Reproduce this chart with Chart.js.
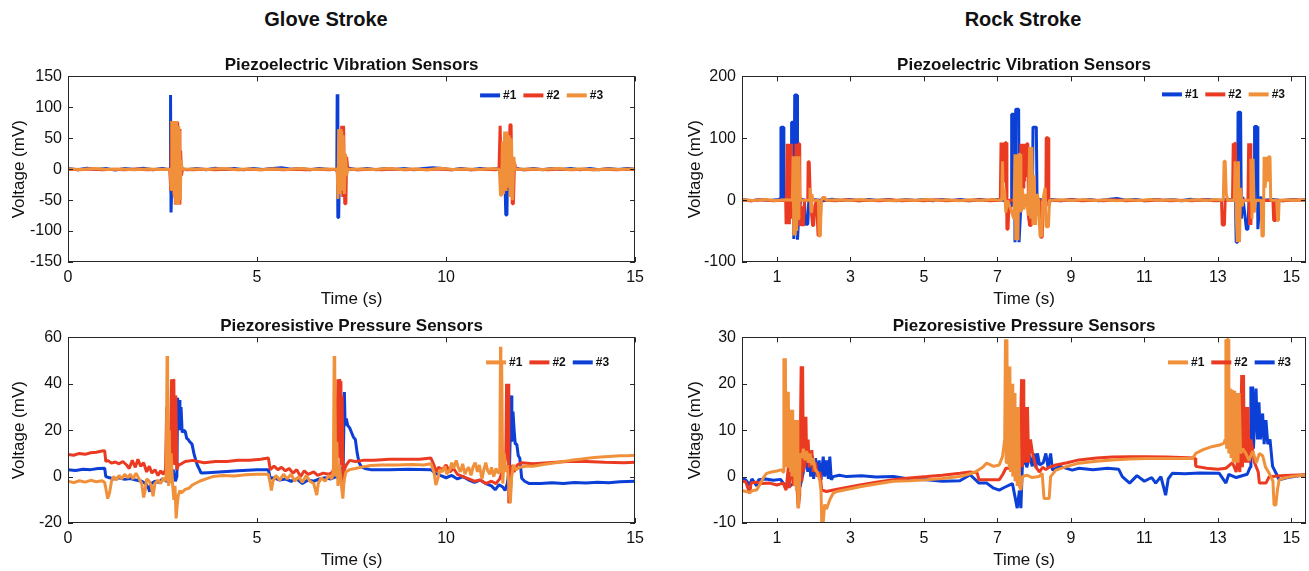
<!DOCTYPE html>
<html>
<head>
<meta charset="utf-8">
<script src="https://cdn.jsdelivr.net/npm/chart.js@4.4.0/dist/chart.umd.min.js"></script>
<style>
  body { margin: 0; background: #fff; width: 1309px; height: 571px; position: relative; overflow: hidden;
         font-family: "Liberation Sans", Arial, Helvetica, sans-serif; }
  .head { position: absolute; top: 8px; font-weight: bold; font-size: 20px; color: #111;
          transform: translateX(-50%); white-space: nowrap; }
  canvas { position: absolute; }
</style>
</head>
<body>
<div class="head" style="left:326px">Glove Stroke</div>
<div class="head" style="left:1023px">Rock Stroke</div>
<canvas id="gloveVib" width="650" height="270" style="left:0;top:40px"></canvas>
<canvas id="glovePres" width="650" height="270" style="left:0;top:301px"></canvas>
<canvas id="rockVib" width="649" height="270" style="left:660px;top:40px"></canvas>
<canvas id="rockPres" width="649" height="270" style="left:660px;top:301px"></canvas>
<script>
// ticks
const gloveTicksX = [0, 5, 10, 15]
const rockTicksX = [1, 3, 5, 7, 9, 11, 13, 15]
const gloveVibTicksY = [-150, -100, -50, 0, 50, 100, 150]
const glovePresTicksY = [-20, 0, 20, 40, 60]
const rockVibTicksY = [-100, 0, 100, 200]
const rockPresTicksY = [-10, 0, 10, 20, 30]

const vibLabels = ["#1", "#2", "#3"]
const presLabels = ["#1", "#2", "#3"]

// series: [time (s), voltage (mV)]
const gloveVib1 = [
  [0,1],[0.25,-1],[0.5,1.5],[0.75,-0.5],[1,1],[1.25,-1.5],[1.5,1],[1.75,-0.5],[2,1.5],[2.25,-1],[2.5,1],[2.68,-1],
  [2.70,2],[2.705,120],[2.72,120],[2.725,-70],[2.745,-70],[2.76,3],
  [2.9,2],[3.15,-1],[3.4,1],[3.65,-1],[3.9,1.5],[4.15,-0.5],[4.4,1],[4.65,-1],[4.9,1],[5.15,-0.5],[5.4,1],[5.65,2.5],[5.9,0],[6.15,1],[6.4,-1],[6.65,1],[6.9,-0.5],[7.08,0],
  [7.11,-3],[7.12,121],[7.135,121],[7.14,-78],[7.16,-78],[7.18,3],
  [7.4,2],[7.65,-1],[7.9,1],[8.15,-1],[8.4,1],[8.65,-0.5],[8.9,1],[9.15,-1],[9.4,1],[9.65,2.5],[9.9,1],[10.15,-1],[10.4,1],[10.65,-1],[10.9,1],[11.15,-0.5],[11.4,1],[11.55,-2],
  [11.58,-74],[11.61,-74],[11.63,15],[11.66,4],
  [11.8,2],[12.05,-1],[12.3,1],[12.55,-1],[12.8,1],[13.05,-0.5],[13.3,1],[13.55,-1],[13.8,1],[14.05,-1],[14.3,1],[14.55,-0.5],[14.8,1],[15,0]
]
const gloveVib2 = [
  [0,0],[0.3,-1],[0.6,0.5],[0.9,-1],[1.2,0],[1.5,-1],[1.8,0.5],[2.1,-1],[2.4,0],[2.69,-0.5],
  [2.72,-35],[2.74,78],[2.76,-20],[2.78,78],[2.80,-40],[2.82,78],[2.84,-57],[2.86,78],[2.88,-57],[2.90,76],[2.92,-57],[2.94,65],[2.96,-57],[2.98,30],[3.0,-10],[3.03,0],
  [3.3,-1],[3.6,0],[3.9,-1],[4.2,0.5],[4.5,-1],[4.8,0],[5.1,-1],[5.4,0.5],[5.7,-1],[6.0,0],[6.3,-1],[6.6,0],[6.9,-1],[7.12,0],
  [7.15,-40],[7.18,60],[7.21,-30],[7.24,70],[7.27,-45],[7.29,70],[7.32,-56],[7.35,-56],[7.37,20],[7.40,0],
  [7.7,-1],[8.0,0],[8.3,-1],[8.6,0.5],[8.9,-1],[9.2,0],[9.5,-1],[9.8,0.5],[10.1,-1],[10.4,0],[10.7,-1],[11.0,0],[11.3,-1],[11.40,0],
  [11.43,70],[11.45,70],[11.47,-40],[11.50,30],[11.53,-30],[11.56,50],[11.59,-35],[11.62,40],[11.65,-20],[11.69,72],[11.72,72],[11.75,-56],[11.78,-56],[11.81,10],[11.85,0],
  [12.1,-1],[12.4,0],[12.7,-1],[13.0,0.5],[13.3,-1],[13.6,0],[13.9,-1],[14.2,0],[14.5,-1],[14.8,0],[15,-0.5]
]
const gloveVib3 = [
  [0,0.5],[0.35,-0.5],[0.7,1],[1.05,-0.5],[1.4,0.5],[1.75,-1],[2.1,0.5],[2.45,-0.5],[2.70,0],
  [2.73,-33],[2.75,78],[2.77,-10],[2.79,78],[2.81,-45],[2.83,78],[2.85,-57],[2.87,78],[2.89,-56],[2.91,70],[2.93,-57],[2.95,62],[2.97,-50],[2.99,15],[3.02,0],
  [3.35,0.5],[3.7,-0.5],[4.05,1],[4.4,-0.5],[4.75,0.5],[5.1,-1],[5.45,0.5],[5.8,-0.5],[6.15,1],[6.5,-0.5],[6.85,0.5],[7.12,0],
  [7.14,-48],[7.16,65],[7.18,-40],[7.20,65],[7.22,-30],[7.24,62],[7.26,-35],[7.28,55],[7.31,-40],[7.34,25],[7.37,-10],[7.40,0],
  [7.75,0.5],[8.1,-0.5],[8.45,1],[8.8,-0.5],[9.15,0.5],[9.5,-1],[9.85,1.5],[10.2,-0.5],[10.55,0.5],[10.9,-0.5],[11.25,1],[11.41,0],
  [11.44,-42],[11.47,-42],[11.49,45],[11.52,-40],[11.55,61],[11.58,-35],[11.61,61],[11.64,-30],[11.67,55],[11.70,-45],[11.73,50],[11.76,-50],[11.79,20],[11.83,0],
  [12.2,0.5],[12.55,-0.5],[12.9,1],[13.25,-0.5],[13.6,0.5],[13.95,-1],[14.3,0.5],[14.65,-0.5],[15,0.5]
]

const glovePres1 = [
  [0,-2],[0.15,-2.6],[0.3,-1.8],[0.45,-2.4],[0.6,-1.6],[0.75,-2.2],[0.9,-1.8],[0.97,-2.5],[1.0,-5],[1.05,-9.5],[1.1,-7],[1.15,-2],[1.2,0],[1.28,-1.5],[1.35,0.5],[1.42,-1],[1.5,1],[1.58,-0.5],[1.65,1],[1.72,-1],[1.8,1.5],[1.88,-1],[1.95,-3],[2.0,-9],[2.04,-6],[2.08,-1],[2.15,-2],[2.2,-4],[2.25,-8.5],[2.3,-3],[2.38,-1.5],[2.45,-3],[2.52,-0.5],[2.58,-2],
  [2.60,2],[2.62,52],[2.63,30],[2.64,45],[2.66,-4],[2.68,20],[2.70,-3],[2.73,10],[2.76,-2],[2.80,-10],[2.83,-4],[2.86,-18],[2.89,-12],[2.92,-8],[2.96,-6],[3.0,-7],[3.1,-5.5],[3.2,-5],[3.3,-3.5],[3.48,-2],[3.65,-1],[3.83,0],[4.1,0.5],[4.4,0.3],[4.7,0.8],[5.0,1],[5.3,1],[5.35,-3],[5.38,-6],[5.42,-2],[5.5,0.5],[5.6,-1.5],[5.7,1],[5.8,-1],[5.9,1],[6.0,-2],[6.1,0],[6.2,-2.5],[6.3,0.5],[6.4,-2],[6.5,-3],[6.58,-8],[6.62,-3],[6.7,-0.5],[6.8,-2],[6.9,0.5],[6.98,-1],
  [7.02,3],[7.04,52],[7.05,30],[7.06,48],[7.08,0],[7.11,15],[7.14,-4],[7.18,5],[7.22,-2],[7.27,-9.5],[7.3,-2],[7.35,2],[7.45,3],[7.6,3.5],[7.8,4.2],[8.0,4.8],[8.3,5],[8.7,5],[9.1,5.2],[9.4,5],[9.6,5.5],[9.68,2],[9.73,-3.6],[9.78,-1],[9.84,3],[9.9,2],[9.97,4.5],[10.02,1],[10.1,3],[10.15,6],[10.2,3.5],[10.27,7],[10.32,4],[10.38,2],[10.44,5.5],[10.5,1],[10.55,3],[10.6,4],[10.66,0.5],[10.72,4.5],[10.77,6],[10.83,2],[10.88,5],[10.95,-1],[11.0,3],[11.05,6],[11.1,2.5],[11.16,1],[11.2,4],[11.26,0],[11.32,3.5],[11.38,1.5],[11.42,2],
  [11.44,56],[11.45,35],[11.47,50],[11.50,-3],[11.54,10],[11.58,2],[11.62,5],[11.66,-4],[11.70,-11.5],[11.73,-1],[11.78,5],[11.85,3],[11.95,4],[12.1,4.5],[12.3,4.5],[12.5,5],[12.7,5.5],[12.9,6],[13.1,6.5],[13.3,7],[13.55,7.5],[13.8,8],[14.0,8.3],[14.2,8.6],[14.4,8.8],[14.6,9],[14.8,9],[15,9.2]
]
const glovePres2 = [
  [0,9.5],[0.15,9.2],[0.3,10],[0.45,9.6],[0.6,10.3],[0.75,10.5],[0.9,11],[0.97,11.2],[1.0,6.5],[1.05,7],[1.15,5.8],[1.25,6.3],[1.35,5.5],[1.45,6.5],[1.55,5],[1.62,3.5],[1.7,7],[1.78,4],[1.85,7.5],[1.92,4.5],[2.0,6],[2.08,2],[2.15,4.5],[2.22,1.5],[2.3,3],[2.38,0.5],[2.45,2.5],[2.52,1],[2.58,3],
  [2.61,30],[2.63,8],[2.66,4],[2.70,3],[2.74,42],[2.76,6],[2.78,42],[2.80,41],[2.82,5],[2.85,35],[2.88,3],[2.92,5],[3.0,5.5],[3.1,6.5],[3.3,7],[3.6,6],[3.9,6.5],[4.2,6.5],[4.5,7],[4.8,7],[5.1,7.5],[5.3,8],[5.35,3],[5.45,4.5],[5.55,3],[5.65,4],[5.75,2.5],[5.85,3.5],[5.95,1.5],[6.05,3],[6.15,0],[6.25,2.5],[6.35,1],[6.5,2],[6.6,0.5],[6.75,1.5],[6.9,1],[7.0,2],
  [7.05,5],[7.10,5],[7.14,42],[7.16,8],[7.18,42],[7.20,41],[7.22,5],[7.25,35],[7.28,-5.7],[7.31,3],[7.36,5],[7.45,7],[7.6,6.5],[7.8,7],[8.1,7],[8.5,7.5],[8.9,7.5],[9.3,7.5],[9.6,8],[9.68,5],[9.73,2],[9.8,4],[9.9,3],[10.0,5],[10.1,2],[10.2,3.5],[10.3,1],[10.45,0],[10.6,-1],[10.75,-2],[10.9,-1.5],[11.05,-3],[11.2,-2],[11.32,-3],[11.42,-1],[11.5,3],
  [11.58,8],[11.60,40],[11.62,10],[11.64,40],[11.66,-11.5],[11.70,-8],[11.74,5],[11.8,2],[11.88,5],[12.0,6],[12.3,5.5],[12.7,6],[13.2,6.5],[13.7,6.5],[14.2,6.2],[14.7,6],[15,6.2]
]
const glovePres3 = [
  [0,3],[0.2,2.6],[0.4,3.2],[0.6,3],[0.8,3.5],[0.97,3.6],[1.0,0],[1.1,-0.5],[1.2,-1],[1.35,-0.5],[1.5,-1.2],[1.65,-0.8],[1.8,-1.5],[1.95,-2],[2.05,-3],[2.12,-4.5],[2.16,-6.5],[2.2,-3],[2.3,-2],[2.4,-2.5],[2.5,-1],[2.6,-2],[2.7,-1],[2.78,3],[2.84,-2],[2.88,0],
  [2.90,34],[2.92,20],[2.94,33],[2.96,20],[2.99,30],[3.02,19],[3.06,20],[3.10,19.5],[3.14,16.5],[3.18,16],[3.22,15],[3.28,14],[3.33,10],[3.38,7],[3.42,5],[3.48,3],[3.52,1.5],[3.7,1.7],[4.0,2],[4.5,2.5],[5.0,3],[5.3,3],[5.35,-0.7],[5.45,-0.5],[5.6,-1.5],[5.75,-1],[5.9,-2],[6.05,-1],[6.2,-3],[6.35,-1.5],[6.5,-2],[6.65,-1],[6.8,-0.5],[6.95,-1],[7.1,0],[7.2,-1],[7.28,5],
  [7.31,36.5],[7.33,22],[7.36,25],[7.40,22],[7.45,21],[7.50,19],[7.55,17],[7.60,16],[7.65,10],[7.70,6],[7.76,4.3],[7.85,3.5],[8.0,3],[8.5,3],[9.0,3.2],[9.6,3],[9.72,1.4],[9.85,0.5],[10.0,-0.5],[10.15,0.5],[10.3,-1],[10.45,0],[10.6,-1.5],[10.75,-2.5],[10.9,-1.5],[11.05,-3],[11.2,-4],[11.3,-5.7],[11.4,-3.5],[11.5,-4.5],[11.56,-6],[11.62,-3],[11.68,5],
  [11.72,35],[11.74,15],[11.77,28],[11.80,20],[11.83,14],[11.87,14],[11.91,9],[11.95,8],[12.0,-0.7],[12.08,-2],[12.2,-3],[12.5,-3],[12.8,-2.6],[13.1,-3],[13.4,-2.5],[13.7,-2.8],[14.0,-2.4],[14.3,-2.6],[14.6,-2.2],[15,-2]
]

const rockVib1 = [
  [0.05,1],[0.3,-1],[0.55,1],[0.8,-0.5],[1.05,1],[1.10,3],[1.11,118],[1.18,118],[1.19,2],[1.25,-2],[1.35,-4],
  [1.39,-10],[1.40,126],[1.45,126],[1.46,-63],[1.485,170],[1.55,170],[1.56,-64],[1.60,-20],[1.65,2],[1.75,0],[1.78,-39],[1.84,-39],[1.87,2],
  [2.0,1],[2.25,-1],[2.5,1.5],[2.75,-0.5],[3,1],[3.25,-1],[3.5,1],[3.75,-0.5],[4,1],[4.25,-1],[4.5,1],[4.75,-0.5],[5,1],[5.25,-1],[5.5,1],[5.75,-0.5],[6,1],[6.25,-1],[6.5,1],[6.75,-0.5],[7.0,1],[7.25,-1],[7.37,0],
  [7.38,-10],[7.39,139],[7.47,139],[7.48,-68],[7.50,147],[7.58,147],[7.59,-68],[7.63,-20],[7.7,0],[7.86,-10],[7.88,-41],[7.95,-30],[7.97,118],[8.06,118],[8.08,2],
  [8.25,0],[8.5,1],[8.75,-1],[9,1],[9.25,-0.5],[9.5,1],[9.75,-1],[10,1],[10.25,2.5],[10.5,0],[10.75,1],[11,-1],[11.25,1],[11.5,-0.5],[11.75,1],[12,-1],[12.25,1.5],[12.5,-0.5],[12.75,1],[13,-1],[13.25,1],[13.48,0],
  [13.50,-68],[13.54,-68],[13.55,142],[13.62,142],[13.64,-30],[13.68,5],[13.78,-47],[13.82,-47],[13.85,0],[13.99,0],[14.00,119],[14.07,119],[14.09,-47],[14.15,5],[14.25,0],
  [14.5,1],[14.75,-1],[15,1],[15.25,-0.5],[15.4,1]
]
const rockVib2 = [
  [0.05,0],[0.3,-1],[0.6,0.5],[0.9,-1],[1.2,0],[1.24,-1],
  [1.25,-39],[1.28,91],[1.30,-39],[1.32,91],[1.34,-39],[1.36,91],[1.38,-30],[1.40,91],[1.42,-10],[1.45,0],
  [1.50,-5],[1.52,91],[1.54,-30],[1.56,91],[1.58,-20],[1.60,91],[1.62,91],[1.63,-42],[1.66,-20],[1.68,-42],[1.70,-10],[1.72,-42],[1.75,0],
  [1.84,0],[1.85,62],[1.88,62],[1.91,0],[1.97,-41],[2.0,-41],[2.03,-10],[2.08,0],[2.12,-57],[2.17,-57],[2.20,0],[2.28,5],[2.32,0],
  [2.6,-1],[2.9,0.5],[3.2,-1],[3.5,0],[3.8,-1],[4.1,0.5],[4.4,-1],[4.7,0],[5.0,-1],[5.3,0.5],[5.6,-1],[5.9,0],[6.2,-1],[6.5,0.5],[6.8,-1],[7.08,0],
  [7.10,93],[7.12,20],[7.14,93],[7.16,30],[7.18,93],[7.20,40],[7.22,93],[7.24,93],[7.26,-47],[7.29,-47],[7.32,0],
  [7.62,0],[7.64,91],[7.66,10],[7.68,91],[7.70,20],[7.72,91],[7.74,30],[7.76,91],[7.78,40],[7.80,91],[7.83,91],[7.85,-28],[7.88,-41],[7.92,-41],[7.95,0],
  [8.16,0],[8.18,-60],[8.22,-60],[8.26,0],[8.32,0],[8.33,101],[8.38,101],[8.40,-10],[8.44,0],
  [8.7,-1],[9.0,0.5],[9.3,-1],[9.6,0],[9.9,-1],[10.2,0.5],[10.5,-1],[10.8,0],[11.1,-1],[11.4,0.5],[11.7,-1],[12.0,0],[12.3,-1],[12.6,0.5],[12.9,-1],[13.1,0],
  [13.12,-40],[13.18,-40],[13.2,0],[13.40,0],[13.42,92],[13.44,10],[13.46,92],[13.48,92],[13.5,0],
  [13.82,0],[13.84,92],[13.86,-40],[13.88,92],[13.90,-40],[13.92,0],
  [14.2,-1],[14.50,0],[14.52,-33],[14.56,-33],[14.58,0],[14.8,-1],[15.1,0.5],[15.4,0]
]
const rockVib3 = [
  [0.05,0.5],[0.35,-0.5],[0.65,1],[0.95,-0.5],[1.25,0.5],[1.42,0],
  [1.44,71],[1.46,-57],[1.48,71],[1.50,-57],[1.52,71],[1.54,-50],[1.56,71],[1.58,-30],[1.60,71],[1.62,10],[1.65,0],
  [1.88,0],[1.90,20],[1.93,-19],[1.95,10],[1.98,0],[2.13,0],[2.15,-58],[2.18,-58],[2.21,0],[2.30,5],[2.34,0],
  [2.65,0.5],[2.95,-0.5],[3.25,1],[3.55,-0.5],[3.85,0.5],[4.15,-1],[4.45,0.5],[4.75,-0.5],[5.05,1],[5.35,-0.5],[5.65,0.5],[5.95,-1],[6.25,0.5],[6.55,-0.5],[6.85,1],[7.12,0],
  [7.14,63],[7.16,0],[7.19,20],[7.23,-20],[7.28,0],[7.45,-30],[7.48,74],[7.50,-65],[7.53,74],[7.56,-65],[7.59,74],[7.62,74],[7.64,-20],[7.68,20],[7.72,-15],[7.78,10],[7.84,-25],[7.88,86],[7.91,-30],[7.94,86],[7.97,-40],[8.0,40],[8.04,-40],[8.08,10],[8.12,0],[8.16,-58],[8.21,-58],[8.24,0],[8.30,20],[8.33,-43],[8.39,-43],[8.42,0],
  [8.75,0.5],[9.05,-0.5],[9.35,1],[9.65,-0.5],[9.95,0.5],[10.25,-1],[10.55,0.5],[10.85,-0.5],[11.15,1],[11.45,-0.5],[11.75,0.5],[12.05,-1],[12.35,0.5],[12.65,-0.5],[12.95,1],[13.15,0],
  [13.17,63],[13.2,63],[13.23,10],[13.27,0],[13.45,0],[13.47,63],[13.50,-20],[13.53,-68],[13.56,63],[13.59,-68],[13.62,20],[13.66,-10],[13.70,0],[13.88,0],[13.90,67],[13.93,-30],[13.96,67],[13.99,-20],[14.03,0],[14.18,0],[14.20,-58],[14.24,-58],[14.26,70],[14.29,20],[14.32,70],[14.35,30],[14.38,70],[14.42,70],[14.44,0],
  [14.6,0],[14.63,-33],[14.65,-33],[14.67,0],[14.9,0.5],[15.2,-0.5],[15.4,0.5]
]

const rockPres1 = [
  [0.05,-3],[0.15,-3.2],[0.26,-3.4],[0.35,-3],[0.45,-2.9],[0.55,-1.5],[0.65,0],[0.72,0.7],[0.85,1],[1.0,1.2],[1.13,1.5],
  [1.17,1],[1.19,25.5],[1.21,2],[1.23,25.5],[1.25,3],[1.27,18.3],[1.29,2],[1.31,18.3],[1.33,3],[1.35,14.4],[1.37,1],[1.39,14.4],[1.41,0],[1.43,14.4],[1.45,1],[1.47,12.2],[1.49,-2],[1.51,12.2],[1.53,-3],[1.55,12.2],[1.57,-5.7],[1.59,-6.8],[1.61,-3],[1.63,5],
  [1.68,4],[1.72,6],[1.77,3.5],[1.81,5.5],[1.86,3],[1.9,5],[1.95,2.5],[1.99,4],[2.04,1.5],[2.1,1],[2.17,-1],[2.2,-3],[2.22,-9.8],[2.26,-9.8],[2.3,-6],[2.35,-7],[2.44,-5],[2.53,-3.6],[2.63,-3.2],[2.9,-2.8],[3.26,-2.2],[3.7,-1.6],[4.17,-1],[4.6,-0.9],[5.08,-0.7],[5.5,-0.4],[5.98,0],[6.26,0.6],[6.44,1.2],[6.6,2],[6.71,2.9],[6.9,2.2],[7.05,2.5],[7.14,4.3],
  [7.20,8],[7.22,29.6],[7.24,3],[7.26,29.6],[7.28,4],[7.30,23.7],[7.32,2],[7.34,23.7],[7.36,1],[7.40,20],[7.42,0],[7.46,18],[7.48,-1],[7.52,15],[7.54,-2],[7.57,15],[7.60,-2],[7.64,-2.9],[7.68,0],
  [7.8,0.3],[7.95,-0.2],[8.13,0],[8.22,0.7],[8.27,-4.7],[8.41,-4.7],[8.45,0],[8.59,1.4],[8.9,2.2],[9.22,2.9],[9.7,3.3],[10.13,3.6],[10.6,3.8],[11.04,3.9],[11.7,3.9],[12.31,3.9],[12.40,5],[12.6,5.8],[12.86,6.5],[13.05,6.8],[13.17,7.2],
  [13.20,8],[13.22,29.6],[13.24,6],[13.26,29.6],[13.28,29.6],[13.30,5],[13.34,19],[13.36,4],[13.40,18.7],[13.42,3],[13.46,18.5],[13.48,3],[13.52,18],[13.55,3],[13.58,18],[13.62,5],[13.68,6],[13.76,5],[13.85,3.5],[13.95,5.5],[14.05,3],[14.13,5],[14.22,4.5],[14.3,2],[14.4,0.7],[14.5,-1],[14.53,-6.1],[14.58,-6.1],[14.62,-3],[14.67,-0.7],[14.8,-0.3],[15.0,0],[15.2,0.2],[15.4,0.4]
]
const rockPres2 = [
  [0.05,-1],[0.15,-1.1],[0.26,-3.6],[0.3,-1.3],[0.45,-1.2],[0.6,-1.5],[0.8,-1.4],[1.0,-1.8],[1.17,-1.4],[1.25,-2.9],[1.31,2],[1.34,-2.5],[1.40,4.7],[1.45,-2],[1.49,4.7],[1.53,0],[1.58,-6.8],[1.62,-4],
  [1.66,23.8],[1.68,-1],[1.70,23.8],[1.72,1],[1.74,12.9],[1.76,2],[1.79,12.9],[1.81,3],[1.85,8],[1.88,2],[1.95,5.7],[1.99,1],[2.05,3],[2.1,0],[2.17,1],[2.22,-2.9],[2.35,-3.2],[2.6,-2.8],[3.26,-1.8],[3.7,-1.2],[4.17,-0.7],[4.6,-0.3],[5.08,0],[5.5,0.3],[5.98,0.7],[6.26,1],[6.45,0.8],[6.5,-0.7],[6.8,-0.7],[7.05,-0.7],[7.15,0.5],[7.23,1.8],[7.41,1.8],[7.5,0],[7.6,1],
  [7.66,21],[7.68,2],[7.70,21],[7.72,3],[7.76,15],[7.78,3],[7.82,15],[7.85,3],[7.90,8],[7.95,5.4],[8.05,2],[8.15,1],[8.23,2],[8.32,1.5],[8.41,2],[8.59,2.5],[8.9,3],[9.22,3.6],[9.7,4],[10.13,4.2],[10.6,4.3],[11.04,4.3],[11.6,4.2],[12.0,4.1],[12.38,4],[12.40,2.2],[12.7,1.8],[13.0,1.6],[13.22,1.8],[13.4,3],[13.5,1],[13.55,4.3],[13.6,1],
  [13.65,21.9],[13.67,2],[13.70,21.9],[13.72,3],[13.76,15],[13.78,3],[13.82,15],[13.85,3],[13.9,8],[14.0,3],[14.1,1],[14.13,-1.4],[14.31,-1.4],[14.4,0],[14.49,0],[14.7,0.2],[15.0,0.3],[15.4,0.4]
]
const rockPres3 = [
  [0.05,-0.4],[0.15,-0.7],[0.26,-1.8],[0.32,-0.5],[0.45,-2],[0.5,-0.7],[0.7,-0.5],[0.9,-0.8],[1.1,-0.6],[1.17,-1.4],[1.3,-2.2],[1.45,-1.6],[1.63,-2.2],[1.72,1],[1.8,4.5],[1.84,1],[1.88,5],[1.92,0],[1.96,4.5],[2.0,-0.5],[2.05,4],[2.1,0],[2.15,3.5],[2.2,-0.7],[2.26,4.3],[2.3,0],[2.35,3.5],[2.4,-0.5],[2.44,4.3],[2.48,-0.7],[2.53,0],[2.7,0.3],[2.9,0],[3.3,0.2],[3.7,-0.1],[4.17,0],[4.6,-0.5],[5.08,-0.7],[5.5,-1],[5.98,-0.9],[6.26,0.4],[6.5,-1.4],[6.71,-1.4],[6.9,-2.5],[7.05,-2.9],[7.2,-2.3],[7.41,-1.5],[7.54,-6.8],[7.60,-3],[7.64,-6.8],[7.68,2.2],
  [7.75,4],[7.8,2],[7.88,4.5],[7.95,2.2],[8.0,5],[8.05,2],[8.09,5],[8.15,2.5],[8.25,3],[8.32,5],[8.38,2],[8.45,5],[8.5,1.4],[8.7,2.2],[9.04,1.4],[9.22,1.8],[9.6,1.5],[10.0,1.8],[10.3,1.6],[10.4,0],[10.6,-1.4],[10.8,0.2],[11.0,-1],[11.2,-0.2],[11.31,-1.4],[11.45,0],[11.58,-4],[11.65,-0.5],[11.76,0.7],[12.1,0.6],[12.5,0.8],[13.04,0.7],[13.22,-1.4],[13.3,0.5],[13.5,-0.2],[13.8,0.5],[13.88,2],
  [13.90,19.4],[13.92,5],[13.95,19.4],[13.97,6],[14.04,19],[14.08,8],[14.12,16],[14.16,8],[14.22,13.6],[14.26,7],[14.31,12.2],[14.36,7],[14.42,8],[14.49,2.2],[14.6,0.5],[14.67,-0.7],[14.9,-0.2],[15.2,0.2],[15.4,0.4]
]

const blue = "#0b3fd6"
const red = "#ea3b22"
const orange = "#f0903a"
const ink = "#111"

Chart.defaults.font.family = '"Liberation Sans", Arial, Helvetica, sans-serif'
Chart.defaults.color = ink

const pts = a => a.map(([x, y]) => ({ x, y }))

// box, inward ticks on all four sides, and a legend inside the top right
const framePlugin = {
  id: "frame",
  afterDatasetsDraw(chart, args, opts) {
    const { ctx, chartArea: a, scales: { x, y } } = chart
    ctx.save()
    ctx.strokeStyle = "#262626"
    ctx.lineWidth = 1
    ctx.strokeRect(Math.round(a.left) + 0.5, Math.round(a.top) + 0.5, Math.round(a.width) - 1, Math.round(a.height) - 1)
    ctx.beginPath()
    x.ticks.forEach(t => {
      const px = Math.round(x.getPixelForValue(t.value)) + 0.5
      ctx.moveTo(px, a.bottom); ctx.lineTo(px, a.bottom - 5)
      ctx.moveTo(px, a.top); ctx.lineTo(px, a.top + 5)
    })
    y.ticks.forEach(t => {
      const py = Math.round(y.getPixelForValue(t.value)) + 0.5
      ctx.moveTo(a.left, py); ctx.lineTo(a.left + 5, py)
      ctx.moveTo(a.right, py); ctx.lineTo(a.right - 5, py)
    })
    ctx.stroke()

    ctx.font = "bold 12px 'Liberation Sans', Arial, sans-serif"
    ctx.textBaseline = "middle"
    const items = chart.data.datasets.map(d => ({ label: d.label, color: d.borderColor, w: ctx.measureText(d.label).width }))
    const L = 20, G = 3, S = 7
    const total = items.reduce((s, it) => s + L + G + it.w, 0) + S * (items.length - 1)
    let lx = a.right - opts.right - total
    const ly = a.top + opts.top
    items.forEach(it => {
      ctx.strokeStyle = it.color
      ctx.lineWidth = 4
      ctx.beginPath(); ctx.moveTo(lx, ly); ctx.lineTo(lx + L, ly); ctx.stroke()
      ctx.fillStyle = ink
      ctx.fillText(it.label, lx + L + G, ly + 0.5)
      lx += L + G + it.w + S
    })
    ctx.restore()
  }
}

function makeChart(id, o) {
  new Chart(document.getElementById(id), {
    type: "line",
    data: {
      datasets: o.series.map((s, i) => ({
        label: o.labels[i],
        data: pts(s),
        borderColor: o.colors[i],
        borderWidth: 3,
        borderJoinStyle: "bevel",
        pointRadius: 0,
        tension: 0,
        order: o.order[i]
      }))
    },
    options: {
      responsive: false,
      animation: false,
      devicePixelRatio: 1,
      layout: { padding: { left: 0, right: o.padRight, top: 0, bottom: 0 } },
      plugins: {
        legend: { display: false },
        tooltip: { enabled: false },
        title: {
          display: true, text: o.title, fullSize: false, color: ink,
          font: { size: 17, weight: "bold" }, padding: { top: 15, bottom: 1 }
        },
        frame: { right: o.legRight, top: o.legTop }
      },
      scales: {
        x: {
          type: "linear", min: o.xMin, max: o.xMax,
          grid: { display: false, drawTicks: false }, border: { display: false },
          afterBuildTicks: s => { s.ticks = o.xTicks.map(v => ({ value: v })) },
          afterFit: s => { s.height = 48 },
          ticks: { font: { size: 16 }, color: ink, padding: 6, maxRotation: 0, autoSkip: false },
          title: { display: true, text: "Time (s)", font: { size: 17 }, color: ink, padding: { top: 0, bottom: 0 } }
        },
        y: {
          type: "linear", min: o.yTicks[0], max: o.yTicks[o.yTicks.length - 1],
          grid: { display: false, drawTicks: false }, border: { display: false },
          afterBuildTicks: s => { s.ticks = o.yTicks.map(v => ({ value: v })) },
          afterFit: s => { s.width = o.yw },
          ticks: { font: { size: 16 }, color: ink, padding: 6, autoSkip: false },
          title: { display: true, text: "Voltage (mV)", font: { size: 17 }, color: ink, padding: { top: o.yTitlePad, bottom: 0 } }
        }
      }
    },
    plugins: [framePlugin]
  })
}

makeChart("gloveVib", {
  title: "Piezoelectric Vibration Sensors",
  series: [gloveVib1, gloveVib2, gloveVib3], labels: vibLabels,
  colors: [blue, red, orange], order: [2, 1, 0],
  xMin: 0, xMax: 15, xTicks: gloveTicksX, yTicks: gloveVibTicksY,
  yw: 68, yTitlePad: 9, padRight: 14, legRight: 32, legTop: 19
})
makeChart("glovePres", {
  title: "Piezoresistive Pressure Sensors",
  series: [glovePres1, glovePres2, glovePres3], labels: presLabels,
  colors: [orange, red, blue], order: [0, 1, 2],
  xMin: 0, xMax: 15, xTicks: gloveTicksX, yTicks: glovePresTicksY,
  yw: 68, yTitlePad: 9, padRight: 14, legRight: 26, legTop: 25
})
makeChart("rockVib", {
  title: "Piezoelectric Vibration Sensors",
  series: [rockVib1, rockVib2, rockVib3], labels: vibLabels,
  colors: [blue, red, orange], order: [2, 1, 0],
  xMin: 0.05, xMax: 15.4, xTicks: rockTicksX, yTicks: rockVibTicksY,
  yw: 82, yTitlePad: 25, padRight: 3, legRight: 21, legTop: 18
})
makeChart("rockPres", {
  title: "Piezoresistive Pressure Sensors",
  series: [rockPres1, rockPres2, rockPres3], labels: presLabels,
  colors: [orange, red, blue], order: [0, 1, 2],
  xMin: 0.05, xMax: 15.4, xTicks: rockTicksX, yTicks: rockPresTicksY,
  yw: 82, yTitlePad: 25, padRight: 3, legRight: 15, legTop: 25
})
</script>
</body>
</html>
